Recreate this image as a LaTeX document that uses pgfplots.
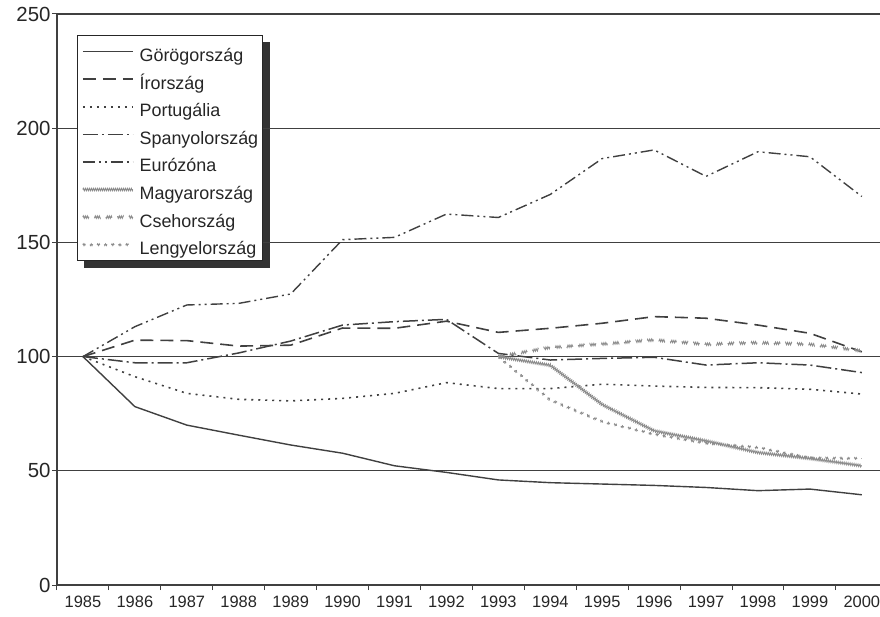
\documentclass[border=0pt]{standalone}
\usepackage{fontspec}
\setmainfont{Liberation Sans}
\usepackage{pgfplots}
\pgfplotsset{compat=1.18}
\usetikzlibrary{calc,backgrounds,decorations.pathmorphing}
\definecolor{ln}{gray}{0.25}
\definecolor{lg}{gray}{0.55}
\begin{document}
\begin{tikzpicture}
\begin{axis}[
  scale only axis, width=823bp, height=571bp,
  xmin=1984.5, xmax=2000.35, ymin=0, ymax=250,
  axis x line*=bottom, axis y line*=left,
  axis line style={line width=1.2bp, color=black!75},
  /pgf/number format/assume math mode=true,
  /pgf/number format/1000 sep={},
  ytick={0,50,...,250},
  ymajorgrids, grid style={line width=1.3bp, color=black!75},
  tick align=outside, major tick length=5bp,
  tick style={line width=1bp, color=black!75},
  xtick={1984.5,1985.5,...,1999.5}, xticklabels={},
  extra x ticks={1985,1986,...,2000},
  extra x tick style={major tick length=0bp, grid=none},
  extra x tick labels={1985,1986,1987,1988,1989,1990,1991,1992,1993,1994,1995,1996,1997,1998,1999,2000},
  yticklabel style={font=\fontsize{20.5}{24}\selectfont, color=black!85, xshift=2bp},
  xticklabel style={font=\fontsize{16.5}{20}\selectfont, color=black!85, yshift=-8bp},
  legend style={name=leg, at={(rel axis cs:0.0243,0.9632)}, anchor=north west,
    draw=black!85, line width=1bp, fill=white,
    font=\fontsize{18}{21}\selectfont, text=black!85,
    inner xsep=4.5bp, inner ysep=4bp, row sep=3.6bp,
    nodes={inner ysep=0bp, inner xsep=0bp, text height=22bp, text depth=2bp},
    /tikz/every odd column/.append style={column sep=6bp}},
  legend cell align=left,
  legend image code/.code={\draw[#1] (0bp,0bp) -- (50bp,0bp);},
  every axis plot/.append style={no marks, line width=1.4bp, color=ln},
]
% Görögország
\addplot[solid] coordinates {(1985,100)(1986,78.1)(1987,70)(1988,65.6)(1989,61.3)(1990,57.7)(1991,52.2)(1992,49.3)(1993,46)(1994,44.8)(1995,44.2)(1996,43.6)(1997,42.7)(1998,41.3)(1999,42)(2000,39.5)};
\addlegendentry{Görögország}
% Írország
\addplot[line width=1.6bp, dash pattern=on 13bp off 7bp] coordinates {(1985,100)(1986,107.2)(1987,107)(1988,104.6)(1989,105)(1990,112.5)(1991,112.4)(1992,115.5)(1993,110.6)(1994,112.4)(1995,114.6)(1996,117.5)(1997,116.8)(1998,113.8)(1999,110.2)(2000,102.1)};
\addlegendentry{Írország}
% Portugália
\addplot[line width=1.6bp, dash pattern=on 2bp off 5bp] coordinates {(1985,100)(1986,91.2)(1987,83.9)(1988,81.3)(1989,80.6)(1990,81.7)(1991,83.9)(1992,88.6)(1993,86)(1994,86)(1995,87.9)(1996,87.1)(1997,86.5)(1998,86.4)(1999,85.7)(2000,83.6)};
\addlegendentry{Portugália}
% Spanyolország
\addplot[line width=1.5bp, dash pattern=on 15bp off 4bp on 2bp off 4bp] coordinates {(1985,100)(1986,97.3)(1987,97.3)(1988,101.6)(1989,106.8)(1990,113.8)(1991,115.3)(1992,116.3)(1993,101.4)(1994,98.5)(1995,99.2)(1996,99.7)(1997,96.3)(1998,97.3)(1999,96.3)(2000,93)};
\addlegendentry{Spanyolország}
% Eurózóna
\addplot[dash pattern=on 12bp off 4bp on 2bp off 4bp on 2bp off 4bp] coordinates {(1985,100)(1986,113.1)(1987,122.6)(1988,123.3)(1989,127.4)(1990,151.2)(1991,152.2)(1992,162.4)(1993,160.9)(1994,171)(1995,186.7)(1996,190.5)(1997,178.9)(1998,189.7)(1999,187.5)(2000,170.1)};
\addlegendentry{Eurózóna}
% Magyarország
\addplot[color=lg, line width=0.9bp, decorate, decoration={zigzag, amplitude=1.2bp, segment length=2bp}] coordinates {(1993,100)(1994,96.2)(1995,79)(1996,67.5)(1997,63.1)(1998,58)(1999,55.4)(2000,52.2)};
\addlegendentry{Magyarország}
% Csehország
\addplot[color=lg, line width=0.9bp, decorate, decoration={zigzag, amplitude=1.2bp, segment length=2bp}, dash pattern=on 16bp off 14bp] coordinates {(1993,100)(1994,104)(1995,105.5)(1996,107.3)(1997,105.4)(1998,106.1)(1999,105.4)(2000,102.5)};
\addlegendentry{Csehország}
% Lengyelország
\addplot[color=lg, line width=0.9bp, decorate, decoration={zigzag, amplitude=0.8bp, segment length=1.6bp}, dash pattern=on 6bp off 10bp] coordinates {(1993,100)(1994,81)(1995,71.5)(1996,66)(1997,62.1)(1998,60.2)(1999,55.6)(2000,55.4)};
\addlegendentry{Lengyelország}
\end{axis}
\begin{scope}[on background layer]
\fill[black!80] ($(leg.south west)+(7bp,-7bp)$) rectangle ($(leg.north east)+(7bp,-7bp)$);
\end{scope}
\pgfresetboundingbox
\useasboundingbox ($(current axis.south west)+(-57bp,-32bp)$) rectangle ($(current axis.north east)+(0bp,14bp)$);
\end{tikzpicture}
\end{document}
